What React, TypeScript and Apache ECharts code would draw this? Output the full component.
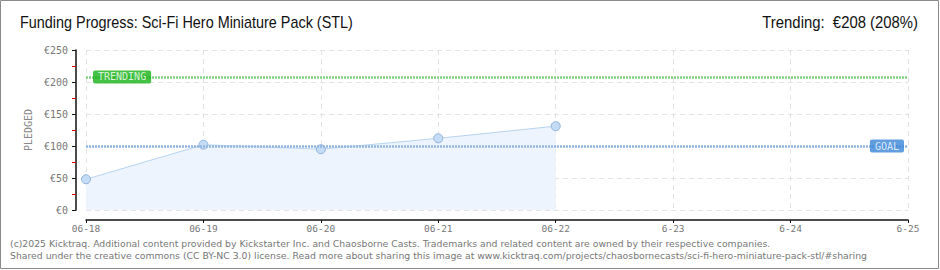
import React, { useEffect, useRef } from "react";
import * as echarts from "echarts";

const categories = ["06-18", "06-19", "06-20", "06-21", "06-22", "6-23", "6-24", "6-25"];
const pledged = [48, 102, 95, 112, 131];
const goalValue = 100;
const trendingValue = 208;
const yTicks = { min: 0, max: 250, interval: 50 };
const titleText = "Funding Progress: Sci-Fi Hero Miniature Pack (STL)";
const trendingText = "Trending:  €208 (208%)";
const footer1 = "(c)2025 Kicktraq. Additional content provided by Kickstarter Inc. and Chaosborne Casts. Trademarks and related content are owned by their respective companies.";
const footer2 = "Shared under the creative commons (CC BY-NC 3.0) license. Read more about sharing this image at www.kicktraq.com/projects/chaosbornecasts/sci-fi-hero-miniature-pack-stl/#sharing";

const pixelFont = "'DejaVu Sans Mono', monospace";
const titleFont = "16px 'Liberation Sans', sans-serif";
const footerFont = "9.3px 'DejaVu Sans', sans-serif";

export default function App() {
  const ref = useRef<HTMLDivElement>(null);
  useEffect(() => {
    if (!ref.current) return;
    const chart = echarts.init(ref.current, undefined, { renderer: "svg" });
    chart.setOption({
      animation: false,
      backgroundColor: "#ffffff",
      grid: { left: 86, right: 32, top: 50, bottom: 60 },
      graphic: [
        {
          type: "rect",
          shape: { x: 0.5, y: 0.5, width: 938, height: 268 },
          style: { fill: "none", stroke: "#8a8a8a", lineWidth: 1 },
          silent: true,
        },
        {
          type: "text",
          x: 20,
          y: 22,
          scaleX: 0.9,
          style: { text: titleText, font: titleFont, fill: "#111", verticalAlign: "middle" },
        },
        {
          type: "text",
          x: 918,
          y: 22,
          scaleX: 0.93,
          style: { text: trendingText, font: titleFont, fill: "#111", align: "right", verticalAlign: "middle" },
        },
        {
          type: "text",
          x: 10,
          y: 243,
          style: { text: footer1, font: footerFont, fill: "#777", verticalAlign: "middle" },
        },
        {
          type: "text",
          x: 10,
          y: 255,
          style: { text: footer2, font: footerFont, fill: "#777", verticalAlign: "middle" },
        },
      ],
      xAxis: {
        type: "category",
        data: categories,
        boundaryGap: false,
        offset: 10,
        axisLine: { show: true, onZero: false, lineStyle: { color: "#111", width: 1.5 } },
        axisTick: { show: true, length: 3, lineStyle: { color: "#111" } },
        axisLabel: { color: "#777", fontFamily: pixelFont, fontSize: 9.5, margin: 3 },
        splitLine: { show: true, lineStyle: { color: "#e2e2e2", type: [5, 4] } },
      },
      yAxis: {
        type: "value",
        min: yTicks.min,
        max: yTicks.max,
        interval: yTicks.interval,
        offset: 10,
        name: "PLEDGED",
        nameLocation: "middle",
        nameGap: 40,
        nameTextStyle: { color: "#888", fontFamily: pixelFont, fontSize: 10 },
        axisLine: { show: true, onZero: false, lineStyle: { color: "#111", width: 1.5 } },
        axisTick: { show: true, length: 4, lineStyle: { color: "#111" } },
        minorTick: { show: true, splitNumber: 2, length: 4, lineStyle: { color: "#e00000" } },
        axisLabel: {
          color: "#777",
          fontFamily: pixelFont,
          fontSize: 10,
          margin: 8,
          formatter: (v: number) => "€" + v,
        },
        splitLine: { show: true, lineStyle: { color: "#e2e2e2", type: [5, 4] } },
      },
      series: [
        {
          type: "line",
          data: pledged,
          symbol: "circle",
          symbolSize: 9,
          itemStyle: { color: "#c4dcf6", borderColor: "#8fb2db", borderWidth: 1 },
          lineStyle: { color: "#b6d3f1", width: 1 },
          areaStyle: { color: "#edf4fd", opacity: 1 },
          z: 2,
          markLine: {
            silent: true,
            symbol: "none",
            label: { show: false },
            data: [
              { yAxis: goalValue, lineStyle: { color: "#92b6df", width: 2.5, type: [2, 1] } },
              { yAxis: trendingValue, lineStyle: { color: "#82d282", width: 2.5, type: [2, 1] } },
            ],
          },
        },
        {
          type: "scatter",
          symbolSize: 0,
          z: 5,
          data: [[categories[0], trendingValue]],
          label: {
            show: true,
            position: "right",
            distance: 7,
            formatter: "TRENDING",
            color: "#fff",
            fontFamily: pixelFont,
            fontSize: 10,
            backgroundColor: "#17b317",
            padding: [2, 5, 1, 5],
            borderRadius: 2,
          },
        },
        {
          type: "scatter",
          symbolSize: 0,
          z: 5,
          data: [[categories[categories.length - 1], goalValue]],
          label: {
            show: true,
            position: "left",
            distance: 4,
            formatter: "GOAL",
            color: "#fff",
            fontFamily: pixelFont,
            fontSize: 10,
            backgroundColor: "#3a86d8",
            padding: [2, 5, 1, 5],
            borderRadius: 2,
          },
        },
      ],
    });
    return () => chart.dispose();
  }, []);
  return <div ref={ref} style={{ position: "fixed", left: 0, top: 0, width: 940, height: 270 }} />;
}
